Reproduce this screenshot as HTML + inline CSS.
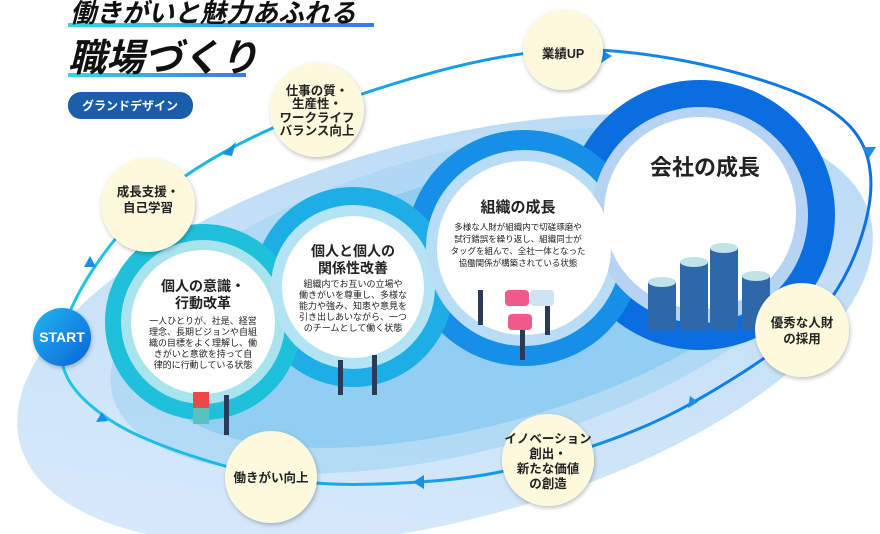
<!DOCTYPE html>
<html><head><meta charset="utf-8">
<style>
html,body{margin:0;padding:0;background:#fff;overflow:hidden;width:880px;height:534px;}
svg{display:block;}
text{font-family:"Liberation Sans","Noto Sans CJK JP",sans-serif;}
</style></head>
<body>
<svg width="880" height="534" viewBox="0 0 880 534" xmlns="http://www.w3.org/2000/svg">
<defs>
<linearGradient id="bg" x1="0" y1="1" x2="1" y2="0">
<stop offset="0" stop-color="#dcecfb"/><stop offset="1" stop-color="#b5d8f5"/></linearGradient>
<linearGradient id="st" x1="0" y1="0" x2="1" y2="1">
<stop offset="0" stop-color="#22b6f0"/><stop offset="1" stop-color="#0a63d8"/></linearGradient>
<linearGradient id="ul" x1="0" x2="1"><stop offset="0" stop-color="#35d6e6"/><stop offset="1" stop-color="#3a78e8"/></linearGradient>
<linearGradient id="orb" x1="0" x2="1"><stop offset="0" stop-color="#1ec8e6"/><stop offset="1" stop-color="#0d6fe6"/></linearGradient>
<filter id="sh" x="-20%" y="-20%" width="140%" height="140%"><feDropShadow dx="1" dy="2" stdDeviation="2" flood-color="#000" flood-opacity="0.25"/></filter>
</defs>

<ellipse cx="445" cy="330" rx="440" ry="190" transform="rotate(-15 445 330)" fill="url(#bg)"/>
<ellipse cx="470" cy="300" rx="370" ry="150" transform="rotate(-15 470 300)" fill="#a6d5f4" opacity="0.7"/>
<ellipse cx="480" cy="300" rx="330" ry="125" transform="rotate(-15 480 300)" fill="#84c9ef" opacity="0.7"/>

<circle cx="700" cy="215" r="135" fill="#0b6ee0"/>
<circle cx="524" cy="248" r="118" fill="#1590e6"/>
<circle cx="353" cy="287" r="100" fill="#1eaee6"/>
<circle cx="203" cy="322" r="98" fill="#1ec0da"/>
<circle cx="203" cy="322" r="82" fill="#a9e4ee"/>
<circle cx="353" cy="287" r="82" fill="#b4e3f4"/>
<circle cx="524" cy="248" r="98" fill="#b9ddf6"/>
<circle cx="700" cy="215" r="108" fill="#b7d3f4"/>
<circle cx="203" cy="322" r="72" fill="#fff"/>
<circle cx="353" cy="287" r="71" fill="#fff"/>
<circle cx="524" cy="248" r="87" fill="#fff"/>
<circle cx="700" cy="213" r="96" fill="#fff"/>

<g fill="#2f68a8">
<rect x="648" y="282" width="28" height="48"/><ellipse cx="662" cy="282" rx="14" ry="5" fill="#bfe3e6"/>
<rect x="680" y="262" width="28" height="68"/><ellipse cx="694" cy="262" rx="14" ry="5" fill="#bfe3e6"/>
<rect x="710" y="248" width="28" height="82"/><ellipse cx="724" cy="248" rx="14" ry="5" fill="#bfe3e6"/>
<rect x="742" y="276" width="28" height="54"/><ellipse cx="756" cy="276" rx="14" ry="5" fill="#bfe3e6"/>
</g>
<g fill="#2b3a55">
<rect x="478" y="290" width="5" height="35"/><rect x="545" y="300" width="5" height="35"/><rect x="520" y="320" width="5" height="40"/>
<rect x="338" y="360" width="5" height="35"/><rect x="372" y="355" width="5" height="40"/><rect x="224" y="395" width="5" height="40"/>
</g>
<rect x="505" y="290" width="24" height="16" fill="#ee5b8a" rx="4"/>
<rect x="508" y="314" width="24" height="16" fill="#ee5b8a" rx="4"/>
<rect x="530" y="290" width="24" height="16" fill="#cfe4f2" rx="4"/>
<rect x="193" y="392" width="16" height="16" fill="#e84a4a"/><rect x="193" y="408" width="16" height="16" fill="#5ac0c0"/>

<path d="M62,337 C68.3,301.2 105.5,242.8 148,205 C190.5,167.2 247.8,135.8 317,110 C386.2,84.2 484.2,53.3 563,50 C641.8,46.7 737.8,70 790,90 C842.2,110 866,135 870,170 C875,205 858,261.2 830,300 C799.3,338.8 739,376.3 692,403 C645,429.7 593.3,446.8 548,460 C502.7,473.2 466.2,479.2 420,482 C373.8,484.8 322.7,487.3 271,477 C219.3,466.7 144.8,443.3 110,420 C75.2,396.7 55.7,372.8 62,337 Z" fill="none" stroke="url(#orb)" stroke-width="3"/>
<g fill="#1a8fe8">
<polygon points="222,154 236,142 232,156"/>
<polygon points="612,56 600,49 601,63"/>
<polygon points="869,158 862,147 876,147"/>
<polygon points="688,408 690,396 698,402"/>
<polygon points="413,482 424,475 424,489"/>
<polygon points="90,256 84,267 96,267"/>
<polygon points="102,412 96,422 108,421"/>
</g>

<g fill="#fdf9dc" filter="url(#sh)">
<circle cx="148" cy="205" r="47"/>
<circle cx="317" cy="110" r="47"/>
<circle cx="563" cy="50" r="40"/>
<circle cx="802" cy="330" r="47"/>
<circle cx="548" cy="460" r="46"/>
<circle cx="271" cy="477" r="46"/>
</g>
<circle cx="62" cy="337" r="29" fill="url(#st)" filter="url(#sh)"/>
<text x="62" y="342" font-size="14" font-weight="bold" fill="#fff" text-anchor="middle">START</text>

<g font-size="12.5" font-weight="bold" fill="#222" text-anchor="middle">
<text x="148" y="196">成長支援・</text><text x="148" y="212">自己学習</text>
<text x="317" y="95">仕事の質・</text><text x="317" y="108">生産性・</text><text x="317" y="122">ワークライフ</text><text x="317" y="135">バランス向上</text>
<text x="563" y="58">業績UP</text>
<text x="802" y="327">優秀な人財</text><text x="802" y="343">の採用</text>
<text x="548" y="443">イノベーション</text><text x="548" y="458">創出・</text><text x="548" y="473">新たな価値</text><text x="548" y="488">の創造</text>
<text x="271" y="482">働きがい向上</text>
</g>

<g text-anchor="middle" fill="#222">
<text x="203" y="291" font-size="14" font-weight="bold">個人の意識・</text>
<text x="203" y="308" font-size="14" font-weight="bold">行動改革</text>
<g font-size="9"><text x="203" y="324">一人ひとりが、社是、経営</text><text x="203" y="335">理念、長期ビジョンや自組</text><text x="203" y="346">織の目標をよく理解し、働</text><text x="203" y="357">きがいと意欲を持って自</text><text x="203" y="368">律的に行動している状態</text></g>
<text x="353" y="256" font-size="14" font-weight="bold">個人と個人の</text>
<text x="353" y="273" font-size="14" font-weight="bold">関係性改善</text>
<g font-size="9"><text x="353" y="287">組織内でお互いの立場や</text><text x="353" y="298">働きがいを尊重し、多様な</text><text x="353" y="309">能力や強み、知恵や意見を</text><text x="353" y="320">引き出しあいながら、一つ</text><text x="353" y="331">のチームとして働く状態</text></g>
<text x="518" y="212" font-size="15" font-weight="bold">組織の成長</text>
<g font-size="8.5"><text x="518" y="230">多様な人財が組織内で切磋琢磨や</text><text x="518" y="242">試行錯誤を繰り返し、組織同士が</text><text x="518" y="254">タッグを組んで、全社一体となった</text><text x="518" y="266">協働関係が構築されている状態</text></g>
<text x="705" y="175" font-size="22" font-weight="bold">会社の成長</text>
</g>

<rect x="68" y="23" width="306" height="4" fill="url(#ul)"/>
<text x="70" y="22" font-size="26" font-weight="bold" font-style="italic" fill="#111">働きがいと魅力あふれる</text>
<rect x="68" y="73" width="178" height="4" fill="url(#ul)"/>
<text x="68" y="71" font-size="38" font-weight="bold" font-style="italic" fill="#111">職場づくり</text>
<rect x="68" y="92" width="125" height="27" rx="13" fill="#1a5dab"/>
<text x="130" y="110" font-size="12" font-weight="bold" fill="#fff" text-anchor="middle">グランドデザイン</text>
</svg>
</body></html>
